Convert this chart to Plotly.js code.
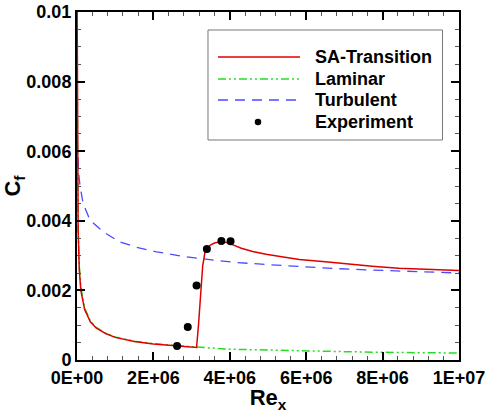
<!DOCTYPE html>
<html>
<head>
<meta charset="utf-8">
<script src="https://cdn.plot.ly/plotly-3.0.1.min.js"></script>
<style>html,body{margin:0;padding:0;background:#fff;}#chart{width:486px;height:413px;}</style>
</head>
<body>
<div id="chart"></div>
<script>
// ---- Data ----
const saX = [2000, 8000, 15000, 30000, 60000, 100000, 200000, 350000, 500000, 750000, 1000000, 1500000, 2000000, 2500000, 3000000, 3130000, 3180000, 3240000, 3290000, 3350000, 3420000, 3500000, 3600000, 3750000, 3900000, 4100000, 4300000, 4600000, 4950000, 5400000, 5820000, 6500000, 7130000, 7800000, 8430000, 9200000, 10000000];
const saY = [0.0105, 0.0074, 0.0053, 0.0037, 0.0026, 0.0020, 0.00145, 0.00110, 0.00092, 0.00076, 0.00065, 0.00053, 0.00046, 0.00041, 0.00037, 0.00036, 0.0010, 0.0018, 0.0027, 0.0031, 0.00322, 0.00331, 0.00336, 0.0034, 0.00338, 0.00330, 0.00321, 0.00312, 0.00304, 0.00296, 0.00289, 0.00282, 0.00275, 0.00269, 0.00264, 0.0026, 0.00257];

const lamX = [8000, 15000, 30000, 60000, 100000, 200000, 350000, 500000, 750000, 1000000, 1500000, 2000000, 2500000, 3000000, 3150000, 4000000, 5000000, 6000000, 7000000, 8000000, 9000000, 10000000];
const lamY = [0.0075, 0.0054, 0.0038, 0.0027, 0.0021, 0.0015, 0.00112, 0.00094, 0.00077, 0.00066, 0.00054, 0.00047, 0.00042, 0.00038, 0.00037, 0.00031, 0.00028, 0.00026, 0.00024, 0.00022, 0.00021, 0.0002];

const turX = [5000, 20000, 40000, 80000, 160000, 340000, 680000, 1100000, 1560000, 2080000, 2700000, 3200000, 4080000, 5000000, 5820000, 6700000, 7560000, 8700000, 10000000];
const turY = [0.0063, 0.0058, 0.0054, 0.0050, 0.0045, 0.00402, 0.00369, 0.0034, 0.00324, 0.00311, 0.00299, 0.00292, 0.00281, 0.00274, 0.00268, 0.00263, 0.00259, 0.00255, 0.0025];

const expX = [2620000, 2900000, 3130000, 3400000, 3780000, 4020000];
const expY = [0.0004, 0.00095, 0.00214, 0.00319, 0.00342, 0.00341];

const xTickVals = [0, 2000000, 4000000, 6000000, 8000000, 10000000];
const xTickText = ['0E+00', '2E+06', '4E+06', '6E+06', '8E+06', '1E+07'];
const yTickVals = [0, 0.002, 0.004, 0.006, 0.008, 0.01];
const yTickText = ['0', '0.002', '0.004', '0.006', '0.008', '0.01'];

const seriesNames = ['SA-Transition', 'Laminar', 'Turbulent', 'Experiment'];

// ---- Styles ----
const FONT = 'Liberation Sans, Arial, Helvetica, sans-serif';
const RED = '#e00000', GREEN = '#22dd22', BLUE = '#4a4aff';
const GREEN_DASH = '8px,3px,2px,3px,2px,3px';
const BLUE_DASH = '10px,7px';

const traces = [
  {x: lamX, y: lamY, mode: 'lines', name: seriesNames[1], line: {color: GREEN, width: 1.5, dash: GREEN_DASH}},
  {x: turX, y: turY, mode: 'lines', name: seriesNames[2], line: {color: BLUE, width: 1.3, dash: BLUE_DASH}},
  {x: saX, y: saY, mode: 'lines', name: seriesNames[0], line: {color: RED, width: 1.5}},
  {x: expX, y: expY, mode: 'markers', name: seriesNames[3], marker: {color: '#000', size: 8}}
];

// custom legend (paper coordinates)
const legRows = [0.8707, 0.8075, 0.7471, 0.6839];
const lx0 = 0.369, lx1 = 0.5838, ltx = 0.6178;
const shapes = [
  {type: 'rect', xref: 'paper', yref: 'paper', x0: 0.3429, x1: 0.9568, y0: 0.6322, y1: 0.9483, line: {color: '#777', width: 1}, fillcolor: '#fff', layer: 'above'},
  {type: 'line', xref: 'paper', yref: 'paper', x0: lx0, x1: lx1, y0: legRows[0], y1: legRows[0], line: {color: RED, width: 1.5}},
  {type: 'line', xref: 'paper', yref: 'paper', x0: lx0, x1: lx1, y0: legRows[1], y1: legRows[1], line: {color: GREEN, width: 1.5, dash: GREEN_DASH}},
  {type: 'line', xref: 'paper', yref: 'paper', x0: lx0, x1: lx1, y0: legRows[2], y1: legRows[2], line: {color: BLUE, width: 1.3, dash: BLUE_DASH}},
  {type: 'circle', xref: 'paper', yref: 'paper', x0: 0.4738 - 0.0085, x1: 0.4738 + 0.0085, y0: legRows[3] - 0.0092, y1: legRows[3] + 0.0092, line: {color: '#000', width: 0}, fillcolor: '#000'}
];
const annotations = seriesNames.map((n, i) => ({
  xref: 'paper', yref: 'paper', x: ltx, y: legRows[i], xanchor: 'left', yanchor: 'middle',
  text: n, showarrow: false, font: {family: FONT, size: 18, color: '#000', weight: 'bold'}
}));

const tickFont = {family: FONT, size: 18, color: '#000', weight: 'bold'};
const axisCommon = {
  showgrid: false, zeroline: false, showline: true, linecolor: '#000', linewidth: 2,
  mirror: 'allticks', ticks: 'inside', ticklen: 8, tickwidth: 2, tickcolor: '#000',
  tickfont: tickFont, tickmode: 'array'
};

const layout = {
  width: 486, height: 413,
  margin: {l: 77, r: 27, t: 12, b: 53},
  paper_bgcolor: '#fff', plot_bgcolor: '#fff',
  showlegend: false,
  xaxis: Object.assign({}, axisCommon, {
    range: [0, 10000000], tickvals: xTickVals, ticktext: xTickText,
    minor: {tickmode: 'linear', tick0: 0, dtick: 400000, ticks: 'inside', ticklen: 4, tickwidth: 1, tickcolor: '#555'},
    title: {text: 'Re<sub>x</sub>', font: {family: FONT, size: 22, color: '#000', weight: 'bold'}, standoff: 2}
  }),
  yaxis: Object.assign({}, axisCommon, {
    range: [0, 0.01], tickvals: yTickVals, ticktext: yTickText,
    minor: {tickmode: 'linear', tick0: 0, dtick: 0.0005, ticks: 'inside', ticklen: 4, tickwidth: 1, tickcolor: '#555'},
    title: {text: 'C<sub>f</sub>', font: {family: FONT, size: 22, color: '#000', weight: 'bold'}, standoff: 4}
  }),
  shapes: shapes,
  annotations: annotations
};

Plotly.newPlot('chart', traces, layout, {displayModeBar: false, staticPlot: true});
</script>
</body>
</html>
